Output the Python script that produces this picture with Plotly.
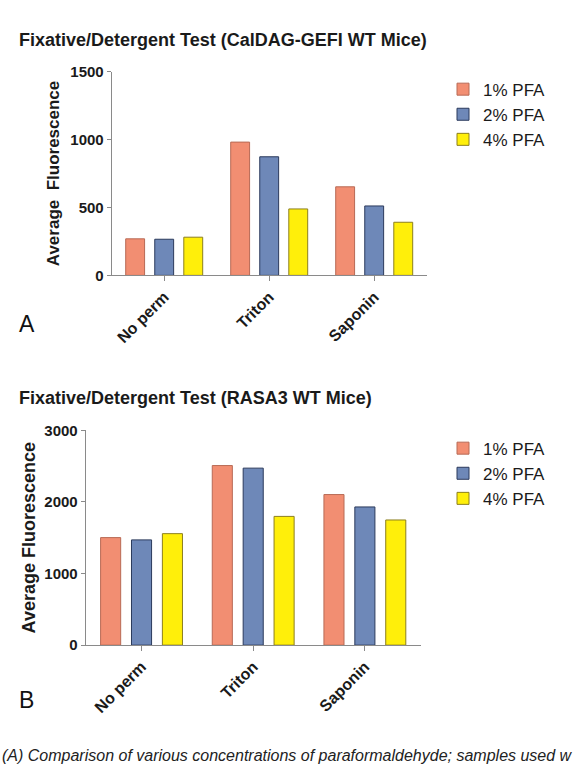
import plotly.graph_objects as go

categories = ["No perm", "Triton", "Saponin"]
series_names = ["1% PFA", "2% PFA", "4% PFA"]
caldag_values = [
    [269, 981, 652],   # 1% PFA
    [266, 873, 511],   # 2% PFA
    [281, 489, 391],   # 4% PFA
]
rasa3_values = [
    [1502, 2508, 2103],
    [1470, 2472, 1930],
    [1557, 1798, 1748],
]
caldag_ticks = [0, 500, 1000, 1500]
rasa3_ticks = [0, 1000, 2000, 3000]

fills = ["#F28E72", "#6E88B8", "#FFEF0A"]
edges = ["#B86A55", "#2B3A5C", "#8C7F1E"]

W, H = 581, 781
def px(x):
    return x / W
def py(y):
    return 1 - y / H

fig = go.Figure()
for i, name in enumerate(series_names):
    fig.add_trace(go.Bar(x=categories, y=caldag_values[i], name=name,
                         marker=dict(color=fills[i], line=dict(color=edges[i], width=1)),
                         xaxis="x", yaxis="y", legend="legend"))
for i, name in enumerate(series_names):
    fig.add_trace(go.Bar(x=categories, y=rasa3_values[i], name=name,
                         marker=dict(color=fills[i], line=dict(color=edges[i], width=1)),
                         xaxis="x2", yaxis="y2", legend="legend2"))

FONT = "Liberation Sans, Arial, sans-serif"
axis_common = dict(showline=True, linecolor="#8a8a8a", linewidth=1, ticks="outside",
                   tickcolor="#8a8a8a", ticklen=4, showgrid=False, zeroline=False)
xcommon = dict(axis_common, tickangle=-45, ticklen=5,
               tickfont=dict(family=FONT, size=16, color="#1a1a1a", weight="bold"))
ycommon = dict(axis_common,
               tickfont=dict(family=FONT, size=15, color="#1a1a1a", weight="bold"))

fig.update_layout(
    width=W, height=H, margin=dict(l=0, r=0, t=0, b=0),
    paper_bgcolor="white", plot_bgcolor="white",
    barmode="group", bargap=0.17, bargroupgap=0.35,
    font=dict(family=FONT, color="#1a1a1a"),
    xaxis=dict(xcommon, domain=[px(111.7), px(426.7)], anchor="y", range=[-0.5, 2.5]),
    yaxis=dict(ycommon, domain=[py(272.3), py(64)], anchor="x", range=[0, 1500],
               tickvals=caldag_ticks,
               title=dict(text="Average  Fluorescence", standoff=6,
                          font=dict(family=FONT, size=17, weight="bold", color="#1a1a1a"))),
    xaxis2=dict(xcommon, domain=[px(85.7), px(420.7)], anchor="y2", range=[-0.5, 2.5]),
    yaxis2=dict(ycommon, domain=[py(650.3), py(430.7)], anchor="x2", range=[0, 3000],
                tickvals=rasa3_ticks,
                title=dict(text="Average Fluorescence", standoff=4,
                           font=dict(family=FONT, size=18, weight="bold", color="#1a1a1a"))),
    legend=dict(x=px(443), y=py(64), xanchor="left", yanchor="top",
                font=dict(family=FONT, size=17, color="#1a1a1a"), bgcolor="rgba(0,0,0,0)"),
    legend2=dict(x=px(443), y=py(431), xanchor="left", yanchor="top",
                 font=dict(family=FONT, size=17, color="#1a1a1a"), bgcolor="rgba(0,0,0,0)"),
    showlegend=True,
)

annotations = [
    dict(text="Fixative/Detergent Test (CalDAG-GEFI WT Mice)", x=px(17), y=py(32),
         font=dict(family=FONT, size=18, weight="bold", color="#1a1a1a")),
    dict(text="Fixative/Detergent Test (RASA3 WT Mice)", x=px(17), y=py(398),
         font=dict(family=FONT, size=18, weight="bold", color="#1a1a1a")),
    dict(text="A", x=px(17), y=py(322), font=dict(family=FONT, size=23, color="#111")),
    dict(text="B", x=px(17), y=py(706), font=dict(family=FONT, size=23, color="#111")),
    dict(text="<i>(A) Comparison of various concentrations of paraformaldehyde; samples used w</i>",
         x=0, y=py(763), font=dict(family=FONT, size=16, color="#222")),
]
for a in annotations:
    fig.add_annotation(xref="paper", yref="paper", xanchor="left", yanchor="middle",
                       showarrow=False, **a)

fig.write_html("out.html")
